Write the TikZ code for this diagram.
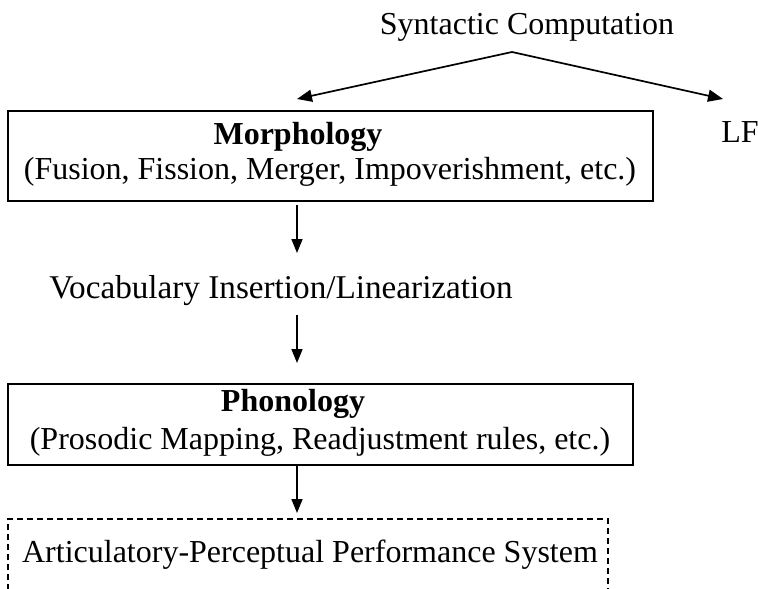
\documentclass[tikz,border=0pt]{standalone}
\usepackage{fontspec}
\setmainfont{Liberation Serif}
\usetikzlibrary{arrows.meta}
\begin{document}
\begin{tikzpicture}[x=1bp,y=-1bp,
  every node/.style={font=\fontsize{32bp}{38bp}\selectfont, inner sep=0pt},
  lbl/.style={anchor=base},
  box/.style={draw, line width=1.7bp},
  dbox/.style={draw, line width=1.5bp, dash pattern=on 6bp off 4bp},
  arr/.style={line width=1.7bp, -{Triangle[length=15bp,width=12bp]}},
  varr/.style={line width=1.7bp, -{Triangle[length=14bp,width=11bp]}}
]
\useasboundingbox (0,0) rectangle (758,589);

% top: syntactic computation splitting to morphology and LF
\node[lbl] (syn) at (527,35) {Syntactic Computation};
\coordinate (apex) at (512,52);
\coordinate (tipL) at (297,99);
\coordinate (tipR) at (723,99);
\draw[arr, line join=miter] (apex) -- (tipL);
\draw[arr, line join=miter] (apex) -- (tipR);
\node[lbl] (lf) at (740,143) {LF};

% morphology box
\draw[box] (8,111) rectangle (653,201);
\coordinate (morphB) at (297,205);
\node[lbl] (morph) at (298,145) {\bfseries Morphology};
\node[lbl] (morphops) at (330,180) {(Fusion, Fission, Merger, Impoverishment, etc.)};

% vocabulary insertion
\node[lbl, font=\fontsize{33.2bp}{38bp}\selectfont] (vocab) at (281,298) {Vocabulary Insertion/Linearization};
\coordinate (vocabT) at (297,253);
\coordinate (vocabB) at (297,315);
\draw[varr] (morphB) -- (vocabT);

% phonology box
\coordinate (phonT) at (297,363);
\draw[varr] (vocabB) -- (phonT);
\draw[box] (8,384) rectangle (633,465);
\node[lbl] (phon) at (293,411) {\bfseries Phonology};
\node[lbl] (phonops) at (320,449) {(Prosodic Mapping, Readjustment rules, etc.)};

% articulatory-perceptual system (dashed, runs off the bottom)
\coordinate (phonB) at (297,466);
\coordinate (apsT) at (297,513);
\draw[varr] (phonB) -- (apsT);
\begin{scope}
  \clip (0,0) rectangle (758,589);
  \draw[dbox] (8,600) -- (8,519) -- (608,519) -- (608,600);
\end{scope}
\node[lbl] (aps) at (310,562) {Articulatory-Perceptual Performance System};
\end{tikzpicture}
\end{document}
